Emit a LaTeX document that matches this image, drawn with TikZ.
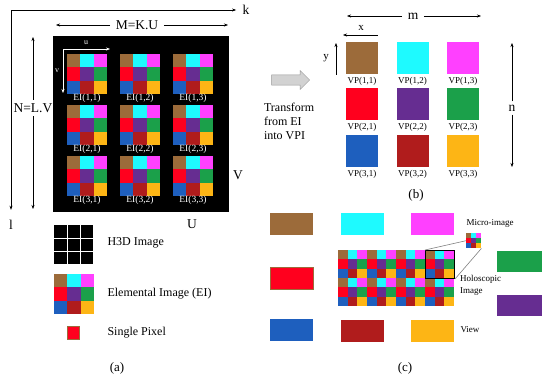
\documentclass[tikz,border=0pt]{standalone}
\usepackage{fontspec}
\setmainfont{Liberation Serif}
\usetikzlibrary{arrows.meta,positioning,shapes.arrows}
\definecolor{vpbrown}{RGB}{156,107,58}
\definecolor{vpcyan}{RGB}{30,250,255}
\definecolor{vpmagenta}{RGB}{255,64,255}
\definecolor{vpred}{RGB}{255,0,30}
\definecolor{vppurple}{RGB}{102,45,145}
\definecolor{vpgreen}{RGB}{27,160,74}
\definecolor{vpblue}{RGB}{30,95,190}
\definecolor{vpdarkred}{RGB}{176,28,28}
\definecolor{vpyellow}{RGB}{253,181,21}
% 3x3 micro-image: origin x, origin y, cell width, cell height
\newcommand{\drawtile}[4]{%
  \foreach \tilerow [count=\tr from 0] in {{vpbrown,vpcyan,vpmagenta},{vpred,vppurple,vpgreen},{vpblue,vpdarkred,vpyellow}}
    \foreach \tilecol [count=\tc from 0] in \tilerow
      \fill[\tilecol] ({#1+\tc*#3},{#2+\tr*#4}) rectangle ++(#3,#4);}
\tikzset{
  dimarrow/.style={-{Stealth[length=4pt,width=3pt]}, line width=0.5pt},
  axislabel/.style={font=\fontsize{13.5}{13.5}\selectfont},
  eilabel/.style={font=\fontsize{9.5}{9.5}\selectfont, white},
  vplabel/.style={font=\fontsize{9}{9}\selectfont},
  legendtext/.style={font=\fontsize{12}{12}\selectfont, anchor=west},
  smalltext/.style={font=\fontsize{9}{12}\selectfont},
  panellabel/.style={font=\fontsize{13}{13}\selectfont},
  vpbox/.style={minimum size=32pt, inner sep=0pt},
  viewbox/.style={minimum width=43pt, minimum height=22pt, inner sep=0pt},
}
\begin{document}
\begin{tikzpicture}[x=1pt, y=-1pt]
\useasboundingbox (0,0) rectangle (550,383);

% --- Panel (a): H3D image ---
\coordinate (origin) at (11,10);
\node[axislabel] (klab) at (246,10) {k};
\node[axislabel] (llab) at (11,225) {l};
\draw[dimarrow, shorten >=3pt] (origin) -- (klab.west);
\draw[dimarrow, shorten >=7pt] (origin) -- (llab.north);

% Dimension arrows
\node[axislabel] (mku) at (137,25) {M=K.U};
\coordinate (mkuL) at (56,25);
\coordinate (mkuR) at (228,25);
\draw[dimarrow, shorten <=2pt] (mku.west) -- (mkuL);
\draw[dimarrow, shorten <=2pt] (mku.east) -- (mkuR);

\node[axislabel] (nlv) at (33,108) {N=L.V};
\coordinate (nlvT) at (33,37);
\coordinate (nlvB) at (33,209);
\draw[dimarrow] (nlv.north) -- (nlvT);
\draw[dimarrow] (nlv.south) -- (nlvB);

% Black H3D area with elemental images
\fill[black] (53,36) rectangle (229,212);
\foreach \rowy [count=\ri] in {54,105,156}
  \foreach \colx [count=\ci] in {67,120,173} {
    \drawtile{\colx}{\rowy}{13.3}{13.3}
    \node[eilabel] (ei\ri\ci) at (\colx+20,\rowy+44) {EI(\ri,\ci)};
  }

% u, v directions
\coordinate (uvorigin) at (63,49);
\coordinate (uend) at (110,49);
\coordinate (vend) at (63,93);
\draw[dimarrow, white] (uvorigin) -- (uend);
\draw[dimarrow, white] (uvorigin) -- (vend);
\node[white, font=\fontsize{8}{8}\selectfont] (ulab) at (86,43) {u};
\node[white, font=\fontsize{8}{8}\selectfont] (vlab) at (57,71) {v};

\node[axislabel] (Vlab) at (238,175) {V};
\node[axislabel] (Ulab) at (192,224) {U};

% Legend
\fill[black] (54,225) rectangle ++(39,39);
\foreach \g in {13,26} {
  \draw[white, line width=1pt] (54+\g,225) -- ++(0,39);
  \draw[white, line width=1pt] (54,225+\g) -- ++(39,0);
}
\node[legendtext] (h3dtext) at (104,243) {H3D Image};

\drawtile{54}{274}{13.3}{13.3}
\node[legendtext] (eitext) at (104,294) {Elemental Image (EI)};

\filldraw[fill=vpred, draw=vpbrown, line width=1.2pt] (67.5,326.5) rectangle (79.5,339.5);
\node[legendtext] (pixtext) at (104,333) {Single Pixel};

\node[panellabel] (pa) at (117,368) {(a)};

% --- Panel (b): viewpoint images ---
\node[single arrow, draw=gray!80, fill=gray!35, minimum height=38pt, minimum width=19pt,
      single arrow head extend=3.5pt, inner sep=4pt] (trarrow) at (288,80) {};
\node[font=\fontsize{12}{14}\selectfont, align=left, anchor=west] (trtext) at (260.5,121)
      {Transform\\from EI\\into VPI};

\node[axislabel] (mlab) at (413,16) {m};
\coordinate (mL) at (347,16);
\coordinate (mR) at (481,16);
\draw[dimarrow, shorten <=2pt] (mlab.west) -- (mL);
\draw[dimarrow, shorten <=2pt] (mlab.east) -- (mR);

\coordinate (xL) at (343,35);
\coordinate (xR) at (378,35);
\draw[dimarrow, {Stealth[length=4pt,width=3pt]}-] (xL) -- (xR);
\node[font=\fontsize{11}{11}\selectfont] (xlab) at (361,28) {x};

\coordinate (yT) at (336,43);
\coordinate (yB) at (336,75);
\draw[dimarrow, {Stealth[length=4pt,width=3pt]}-] (yT) -- (yB);
\node[font=\fontsize{11}{11}\selectfont] (ylab) at (326,58) {y};

\foreach \rowy/\rowclrs [count=\ri] in {42/{vpbrown,vpcyan,vpmagenta},88/{vpred,vppurple,vpgreen},135/{vpblue,vpdarkred,vpyellow}}
  \foreach \clr [count=\ci] in \rowclrs {
    \pgfmathsetmacro\colx{346+(\ci-1)*50.5}
    \node[vpbox, fill=\clr] (vp\ri\ci) at (\colx+16,\rowy+16) {};
    \node[vplabel, below=0pt of vp\ri\ci] (vplab\ri\ci) {VP(\ri,\ci)};
  }

\node[axislabel] (nlab) at (512,108) {n};
\coordinate (nT) at (512,43);
\coordinate (nB) at (512,167);
\draw[dimarrow] (nlab.north) -- (nT);
\draw[dimarrow] (nlab.south) -- (nB);

\node[panellabel] (pb) at (416,195) {(b)};

% --- Panel (c): holoscopic image and views ---
\node[viewbox, fill=vpbrown] (view11) at (291.5,224) {};
\node[viewbox, fill=vpcyan] (view12) at (362.5,224) {};
\node[viewbox, fill=vpmagenta] (view13) at (432.5,224) {};
\node[viewbox, fill=vpred, draw=vpbrown, line width=1pt] (view21) at (291.5,278) {};
\node[viewbox, fill=vpblue] (view31) at (291.5,330) {};
\node[viewbox, fill=vpdarkred] (view32) at (362.5,331) {};
\node[viewbox, fill=vpyellow] (view33) at (432.5,331) {};
\node[viewbox, minimum width=45pt, minimum height=21pt, fill=vpgreen] (view23) at (519.5,261.5) {};
\node[viewbox, minimum width=45pt, minimum height=21pt, fill=vppurple] (view22) at (519.5,305) {};

% Mosaic of micro-images
\foreach \mx in {0,...,3}
  \foreach \my in {0,1}
    \drawtile{338+\mx*29}{250+\my*28}{9.67}{9.33}
\node[draw=black, line width=1pt, minimum width=29pt, minimum height=28pt, inner sep=0pt,
      anchor=north west] (microbox) at (425,250) {};

% Zoomed micro-image
\drawtile{466}{233}{5}{5}
\node[minimum size=15pt, inner sep=0pt, anchor=north west] (inset) at (466,233) {};
\draw[gray, line width=0.6pt] (microbox.north west) -- (inset.west);
\draw[gray, line width=0.6pt] (microbox.south east) -- (inset.south east);

\node[smalltext] (microtext) at (490,223) {Micro-image};
\node[smalltext, align=left, anchor=west] (holotext) at (456.5,285) {Holoscopic\\Image};
\node[smalltext, anchor=west] (viewtext) at (457,330) {View};

\node[panellabel] (pc) at (405,368) {(c)};

\end{tikzpicture}
\end{document}
